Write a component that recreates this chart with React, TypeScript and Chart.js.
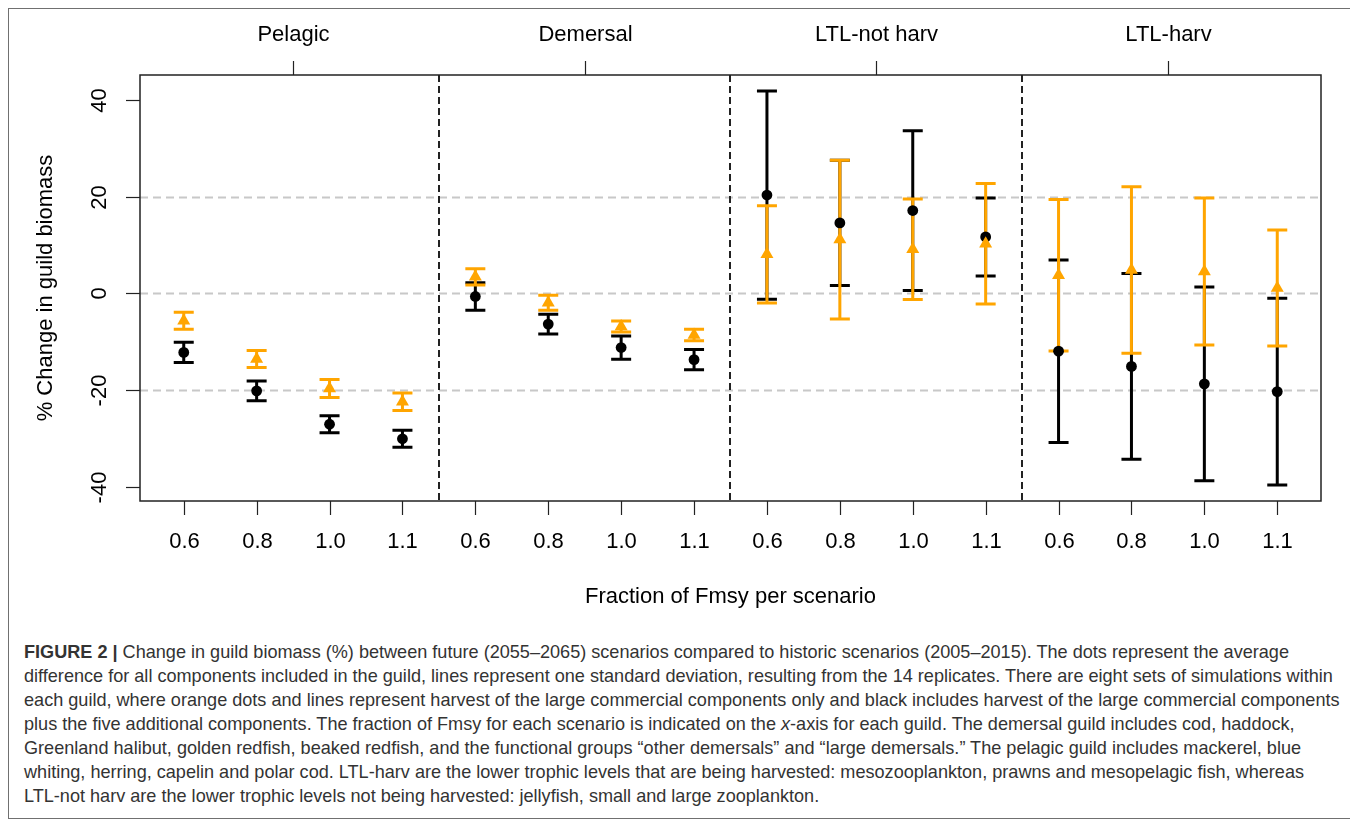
import React, { useEffect, useRef } from "react";
import { Chart, registerables } from "chart.js";

Chart.register(...registerables);

// Guild panels and the Fmsy fraction used in each scenario
const guilds = ["Pelagic", "Demersal", "LTL-not harv", "LTL-harv"];
const fmsyLabels = ["0.6", "0.8", "1.0", "1.1"];
const yTicks = [-40, -20, 0, 20, 40];
const refLines = [-20, 0, 20];

// Large commercial components plus the five additional components (black)
const allMean = [
  -12.2, -20.15, -27.05, -30.05,
  -0.65, -6.35, -11.2, -13.7,
  20.3, 14.55, 17.1, 11.65,
  -11.95, -15.1, -18.7, -20.3,
];
const allSd = [
  2.1, 2.05, 1.75, 1.75,
  2.85, 2.05, 2.4, 2.1,
  21.5, 12.95, 16.5, 8.05,
  18.85, 19.2, 20.0, 19.3,
];

// Large commercial components only (orange)
const commMean = [
  -5.65, -13.55, -19.65, -22.4,
  3.4, -1.95, -6.85, -8.6,
  8.05, 11.1, 9.1, 10.25,
  3.75, 4.8, 4.5, 1.1,
];
const commSd = [
  1.75, 1.75, 1.85, 1.8,
  1.7, 1.55, 1.15, 1.2,
  10.05, 16.4, 10.4, 12.45,
  15.65, 17.2, 15.2, 12.0,
];

const BLACK = "#000000";
const ORANGE = "#FFA500";
const FONT = "'Liberation Sans', Arial, Helvetica, sans-serif";

const W = 1342;
const H = 620;

const errorBarPlugin = {
  id: "guildFigure",
  beforeDatasetsDraw(chart: any) {
    const { ctx, chartArea: a, scales } = chart;
    const xs = scales.x;
    const ys = scales.y;
    ctx.save();
    // horizontal reference lines
    ctx.strokeStyle = "#c8c8c8";
    ctx.lineWidth = 2;
    ctx.setLineDash([8, 5]);
    refLines.forEach((v) => {
      const y = Math.round(ys.getPixelForValue(v)) + 0.5;
      ctx.beginPath();
      ctx.moveTo(a.left, y);
      ctx.lineTo(a.right, y);
      ctx.stroke();
    });
    // guild separators
    ctx.strokeStyle = "#222";
    ctx.lineWidth = 2;
    ctx.setLineDash([7, 4]);
    for (let g = 1; g < guilds.length; g++) {
      const x = Math.round(xs.getPixelForValue(g * 4 + 0.5));
      ctx.beginPath();
      ctx.moveTo(x, a.top);
      ctx.lineTo(x, a.bottom);
      ctx.stroke();
    }
    ctx.setLineDash([]);
    // standard deviation bars
    const drawBars = (mean: number[], sd: number[], color: string) => {
      ctx.strokeStyle = color;
      ctx.lineWidth = 3;
      ctx.lineCap = "butt";
      mean.forEach((m, i) => {
        const x = xs.getPixelForValue(i + 1);
        const yTop = ys.getPixelForValue(m + sd[i]);
        const yBot = ys.getPixelForValue(m - sd[i]);
        ctx.beginPath();
        ctx.moveTo(x, yTop);
        ctx.lineTo(x, yBot);
        ctx.moveTo(x - 10, yTop);
        ctx.lineTo(x + 10, yTop);
        ctx.moveTo(x - 10, yBot);
        ctx.lineTo(x + 10, yBot);
        ctx.stroke();
      });
    };
    drawBars(allMean, allSd, BLACK);
    drawBars(commMean, commSd, ORANGE);
    ctx.restore();
  },
  afterDraw(chart: any) {
    const { ctx, chartArea: a, scales } = chart;
    const xs = scales.x;
    const ys = scales.y;
    ctx.save();
    ctx.strokeStyle = "#222";
    ctx.lineWidth = 1.5;
    ctx.strokeRect(a.left, a.top, a.right - a.left, a.bottom - a.top);

    ctx.fillStyle = "#000";
    ctx.font = `22px ${FONT}`;
    ctx.lineWidth = 1.2;

    // left axis
    yTicks.forEach((v) => {
      const y = Math.round(ys.getPixelForValue(v)) + 0.5;
      ctx.beginPath();
      ctx.moveTo(a.left - 14, y);
      ctx.lineTo(a.left, y);
      ctx.stroke();
      ctx.save();
      ctx.translate(a.left - 40, y);
      ctx.rotate(-Math.PI / 2);
      ctx.textAlign = "center";
      ctx.textBaseline = "middle";
      ctx.fillText(String(v), 0, 0);
      ctx.restore();
    });

    // bottom axis
    ctx.textAlign = "center";
    ctx.textBaseline = "middle";
    for (let i = 0; i < guilds.length * fmsyLabels.length; i++) {
      const x = Math.round(xs.getPixelForValue(i + 1)) + 0.5;
      ctx.beginPath();
      ctx.moveTo(x, a.bottom);
      ctx.lineTo(x, a.bottom + 14);
      ctx.stroke();
      ctx.fillText(fmsyLabels[i % fmsyLabels.length], x, a.bottom + 41);
    }

    // top axis with guild names
    guilds.forEach((g, k) => {
      const x = Math.round(xs.getPixelForValue(k * 4 + 2.5)) + 0.5;
      ctx.beginPath();
      ctx.moveTo(x, a.top - 14);
      ctx.lineTo(x, a.top);
      ctx.stroke();
      ctx.fillText(g, x, a.top - 40);
    });

    // axis titles
    const cx = (a.left + a.right) / 2;
    const cy = (a.top + a.bottom) / 2;
    ctx.fillText("Fraction of Fmsy per scenario", cx, a.bottom + 96);
    ctx.save();
    ctx.translate(a.left - 94, cy);
    ctx.rotate(-Math.PI / 2);
    ctx.fillText("% Change in guild biomass", 0, 0);
    ctx.restore();
    ctx.restore();
  },
};

const captionLines = [
  "Change in guild biomass (%) between future (2055–2065) scenarios compared to historic scenarios (2005–2015). The dots represent the average",
  "difference for all components included in the guild, lines represent one standard deviation, resulting from the 14 replicates. There are eight sets of simulations within",
  "each guild, where orange dots and lines represent harvest of the large commercial components only and black includes harvest of the large commercial components",
  "plus the five additional components. The fraction of Fmsy for each scenario is indicated on the x-axis for each guild. The demersal guild includes cod, haddock,",
  "Greenland halibut, golden redfish, beaked redfish, and the functional groups “other demersals” and “large demersals.” The pelagic guild includes mackerel, blue",
  "whiting, herring, capelin and polar cod. LTL-harv are the lower trophic levels that are being harvested: mesozooplankton, prawns and mesopelagic fish, whereas",
  "LTL-not harv are the lower trophic levels not being harvested: jellyfish, small and large zooplankton.",
];

function CaptionLine({ text, index }: { text: string; index: number }) {
  if (index === 3) {
    const [pre, post] = text.split("x-axis");
    return (
      <div>
        {pre}
        <i>x</i>
        {"-axis" + post}
      </div>
    );
  }
  if (index === 0) {
    return (
      <div>
        <b>FIGURE 2 | </b>
        {text}
      </div>
    );
  }
  return <div>{text}</div>;
}

export default function App() {
  const canvasRef = useRef<HTMLCanvasElement | null>(null);

  useEffect(() => {
    if (!canvasRef.current) return;
    const idx = allMean.map((_, i) => i + 1);
    const chart = new Chart(canvasRef.current, {
      type: "scatter",
      data: {
        datasets: [
          {
            label: "Large commercial only",
            data: idx.map((x, i) => ({ x, y: commMean[i] })),
            pointStyle: "triangle",
            radius: 7.5,
            backgroundColor: ORANGE,
            borderWidth: 0,
            clip: false,
          },
          {
            label: "Plus additional components",
            data: idx.map((x, i) => ({ x, y: allMean[i] })),
            pointStyle: "circle",
            radius: 5.4,
            backgroundColor: BLACK,
            borderWidth: 0,
            clip: false,
          },
        ],
      } as any,
      options: {
        responsive: false,
        maintainAspectRatio: false,
        animation: false,
        devicePixelRatio: 1,
        layout: { padding: { left: 131, top: 66, right: 30, bottom: 128 } },
        plugins: {
          legend: { display: false },
          tooltip: { enabled: false },
        },
        scales: {
          x: { type: "linear", min: 0.4, max: 16.6, display: false },
          y: { type: "linear", min: -42.9, max: 45.1, display: false },
        },
      },
      plugins: [errorBarPlugin],
    });
    return () => chart.destroy();
  }, []);

  return (
    <div
      style={{
        position: "relative",
        width: 1344,
        height: 811,
        border: "1px solid #707070",
        boxSizing: "border-box",
        background: "#fff",
      }}
    >
      <canvas
        ref={canvasRef}
        width={W}
        height={H}
        style={{ position: "absolute", left: 0, top: 0, width: W, height: H }}
      />
      <div
        style={{
          position: "absolute",
          left: 15,
          top: 631,
          fontFamily: FONT,
          fontSize: 18.1,
          lineHeight: "24px",
          color: "#333",
          whiteSpace: "nowrap",
        }}
      >
        {captionLines.map((t, i) => (
          <CaptionLine key={i} text={t} index={i} />
        ))}
      </div>
    </div>
  );
}
